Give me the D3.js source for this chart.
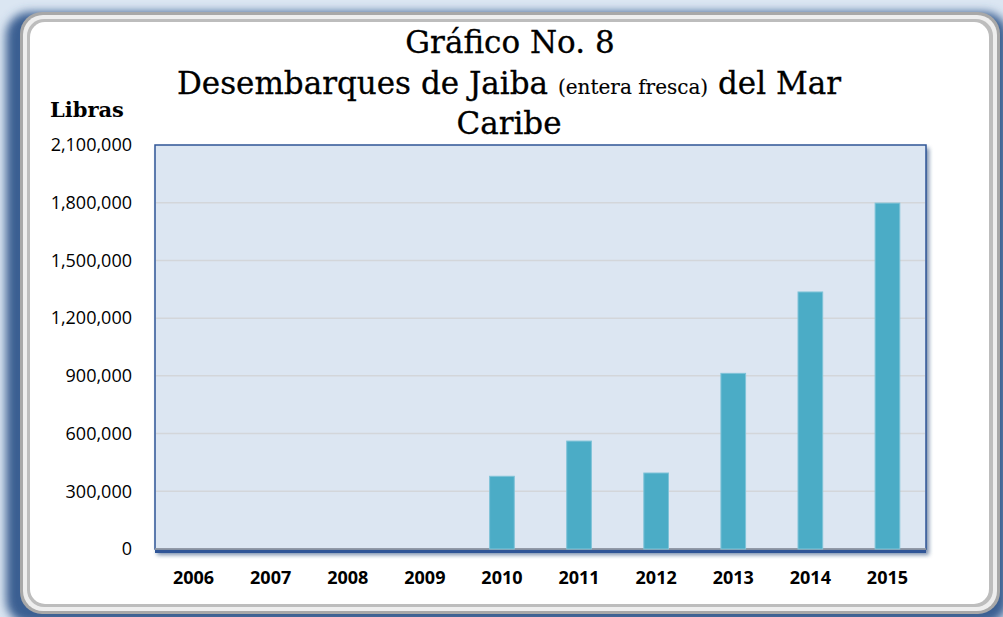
<!DOCTYPE html>
<html><head><meta charset="utf-8">
<script src="https://cdn.jsdelivr.net/npm/d3@7"></script>
<style>html,body{margin:0;padding:0;background:#dae5f1;overflow:hidden}</style>
</head><body>
<script>
const years = ["2006","2007","2008","2009","2010","2011","2012","2013","2014","2015"];
const libras = [0,0,0,0,378000,561000,395000,913000,1336000,1798000];
const yTicks = [0,300000,600000,900000,1200000,1500000,1800000,2100000];
const titleLines = ["Gráfico No. 8","Desembarques de Jaiba","(entera fresca)","del Mar","Caribe"];
const yAxisTitle = "Libras";

const W=1003,H=617;
const svg=d3.select("body").append("svg").attr("width",W).attr("height",H);
const defs=svg.append("defs");
svg.append("rect").attr("width",W).attr("height",H).attr("fill","#dbe6f2");
const blur=defs.append("filter").attr("id","blur").attr("x","-10%").attr("y","-10%").attr("width","120%").attr("height","120%");
blur.append("feGaussianBlur").attr("stdDeviation",5);
const blur2=defs.append("filter").attr("id","blur2").attr("x","-10%").attr("y","-10%").attr("width","120%").attr("height","120%");
blur2.append("feGaussianBlur").attr("stdDeviation",2);
// frame shadow
svg.append("rect").attr("x",6).attr("y",12).attr("width",1002).attr("height",612).attr("rx",24)
  .attr("fill","#3a5f92").attr("filter","url(#blur)");
// bevel
svg.append("rect").attr("x",20).attr("y",12).attr("width",980).attr("height",602).attr("rx",22)
  .attr("fill","#a8a8a8");
svg.append("rect").attr("x",23).attr("y",15).attr("width",974).attr("height",596).attr("rx",20)
  .attr("fill","#eeeeee");
svg.append("rect").attr("x",27).attr("y",19).attr("width",966).attr("height",588).attr("rx",17)
  .attr("fill","#bdbdbd");
svg.append("rect").attr("x",30).attr("y",22).attr("width",959).attr("height",582).attr("rx",15)
  .attr("fill","#ffffff");

const m={l:155,r:926,t:145,b:549};
const x=d3.scaleBand().domain(years).range([m.l,m.r]).paddingInner(0.68).paddingOuter(0.34);
const y=d3.scaleLinear().domain([0,2100000]).range([m.b,m.t]);

// plot shadow
svg.append("rect").attr("x",m.l+2).attr("y",m.t+3).attr("width",m.r-m.l+1).attr("height",m.b-m.t+3)
  .attr("fill","#1f3f73").attr("opacity",0.6).attr("filter","url(#blur2)");
svg.append("rect").attr("x",m.l).attr("y",m.t).attr("width",m.r-m.l).attr("height",m.b-m.t)
  .attr("fill","#dce6f2").attr("stroke","#2f5597").attr("stroke-width",1.5);
svg.append("rect").attr("x",m.l).attr("y",m.b).attr("width",m.r-m.l).attr("height",4).attr("fill","#2f5597");

// grid
svg.append("g").selectAll("line").data(yTicks.filter(d=>d>0&&d<2100000)).join("line")
  .attr("x1",m.l+1).attr("x2",m.r-1).attr("y1",d=>y(d)).attr("y2",d=>y(d))
  .attr("stroke","#d3d6da").attr("stroke-width",1.5);

// y axis
const ya=svg.append("g").attr("transform",`translate(${m.l},0)`)
  .call(d3.axisLeft(y).tickValues(yTicks).tickFormat(d3.format(",")).tickSize(0).tickPadding(23));
ya.select(".domain").remove();
ya.selectAll("text").attr("font-family","'Open Sans',Calibri,sans-serif").attr("font-size",18).attr("fill","#000");

// x axis
svg.append("line").attr("x1",m.l).attr("x2",m.r).attr("y1",m.b).attr("y2",m.b).attr("stroke","#a6a6a6").attr("stroke-width",1.5);
const xa=svg.append("g").attr("transform",`translate(0,${m.b})`)
  .call(d3.axisBottom(x).tickSize(0).tickPadding(22));
xa.select(".domain").remove();
xa.selectAll("text").attr("font-family","'Open Sans',Calibri,sans-serif").attr("font-weight","bold").attr("font-size",18).attr("fill","#000");

// bars
svg.append("g").selectAll("rect").data(years.map((d,i)=>({k:d,v:libras[i]})).filter(d=>d.v>0)).join("rect")
  .attr("x",d=>x(d.k)).attr("width",x.bandwidth())
  .attr("y",d=>y(d.v)).attr("height",d=>y(0)-y(d.v))
  .attr("fill","#4bacc6").attr("stroke","#7fc3d8").attr("stroke-width",1);

// titles
const serif="'DejaVu Serif','Century Schoolbook',serif";
svg.append("text").attr("x",510).attr("y",53).attr("text-anchor","middle")
  .attr("font-family",serif).attr("font-size",31).attr("fill","#000").attr("stroke","#000").attr("stroke-width",0.3).text(titleLines[0]);
const t2=svg.append("text").attr("x",509).attr("y",94).attr("text-anchor","middle")
  .attr("font-family",serif).attr("font-size",31).attr("fill","#000").attr("stroke","#000").attr("stroke-width",0.3);
t2.append("tspan").text(titleLines[1]+" ");
t2.append("tspan").attr("font-size",20).attr("stroke-width",0.15).text(titleLines[2]);
t2.append("tspan").text(" "+titleLines[3]);
svg.append("text").attr("x",509).attr("y",134).attr("text-anchor","middle")
  .attr("font-family",serif).attr("font-size",31).attr("fill","#000").attr("stroke","#000").attr("stroke-width",0.3).text(titleLines[4]);
svg.append("text").attr("x",50).attr("y",117)
  .attr("font-family",serif).attr("font-weight","bold").attr("font-size",21).attr("fill","#000").text(yAxisTitle);
</script>
</body></html>
